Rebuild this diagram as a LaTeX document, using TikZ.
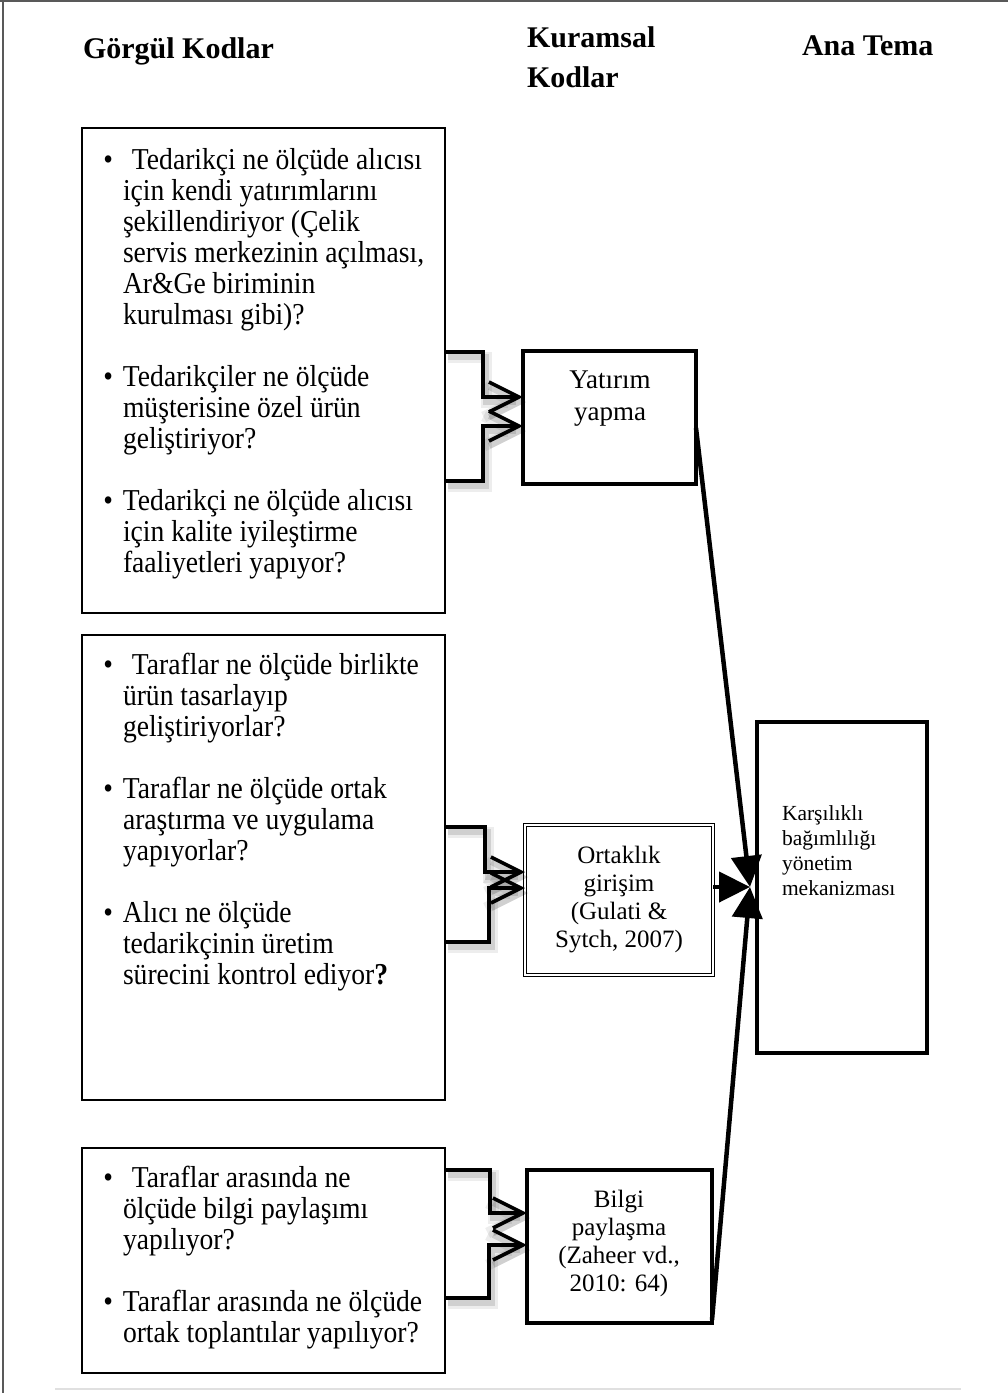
\documentclass[tikz,border=0pt]{standalone}
\usepackage{fontspec}
\setmainfont{Liberation Serif}
\usepackage{graphicx}
\usetikzlibrary{arrows.meta}
\newcommand\bodyfont{\fontsize{27.6}{28.2}\selectfont}
\newcommand\tallbox[1]{\scalebox{1}[1.1]{#1}}
\newcommand\bul{\llap{•\hspace{10pt}}}
\tikzset{
  leftbox/.style={draw, line width=2.5pt, inner sep=0pt, outer sep=0pt, minimum width=363pt},
  kbox/.style={draw, line width=4pt, inner sep=0pt, outer sep=0pt},
  txt/.style={inner sep=0pt, outer sep=0pt},
  conn/.style={line width=3.6pt, -{Straight Barb[length=30pt,width=30pt]},
    preaction={draw=black, opacity=0.07, line width=11pt, transform canvas={shift={(3,5)}}},
    preaction={draw=black, opacity=0.12, line width=6pt, transform canvas={shift={(3,5)}}}},
  big/.style={line width=4.5pt, -{Triangle[length=31pt,width=30pt]}},
}
\begin{document}
\begin{tikzpicture}[x=1pt,y=-1pt]
\useasboundingbox (0,0) rectangle (1008,1393);
% frame
\draw[black!65, line width=2pt] (0,1) -- (1008,1);
\draw[black!65, line width=2pt] (2.5,0) -- (2.5,1393);
\draw[black!12, line width=1.5pt] (55,1389) -- (961,1389);

% headers
\node[txt, anchor=base west, font=\fontsize{30}{40}\selectfont\bfseries] (h1) at (83,58) {Görgül Kodlar};
\node[txt, anchor=north west, font=\fontsize{30}{40}\selectfont\bfseries] (h2) at (527,19)
  {\begin{tabular}{@{}l@{}}Kuramsal\\Kodlar\end{tabular}};
\node[txt, anchor=base west, font=\fontsize{30}{40}\selectfont\bfseries] (h3) at (802,55) {Ana Tema};

% left boxes
\node[leftbox, minimum height=485pt] (b1) at (263.5,370.5) {};
\node[leftbox, minimum height=465pt] (b2) at (263.5,867.5) {};
\node[leftbox, minimum height=225pt] (b3) at (263.5,1260.5) {};

\node[txt, anchor=north west] (t1) at (123,148) {\tallbox{\bodyfont\begin{tabular}{@{}l@{}}
\bul\hspace*{9pt}Tedarikçi ne ölçüde alıcısı\\
için kendi yatırımlarını\\
şekillendiriyor (Çelik\\
servis merkezinin açılması,\\
Ar\&Ge biriminin\\
kurulması gibi)?\\
\\
\bul Tedarikçiler ne ölçüde\\
müşterisine özel ürün\\
geliştiriyor?\\
\\
\bul Tedarikçi ne ölçüde alıcısı\\
için kalite iyileştirme\\
faaliyetleri yapıyor?
\end{tabular}}};

\node[txt, anchor=north west] (t2) at (123,652.5) {\tallbox{\bodyfont\begin{tabular}{@{}l@{}}
\bul\hspace*{9pt}Taraflar ne ölçüde birlikte\\
ürün tasarlayıp\\
geliştiriyorlar?\\
\\
\bul Taraflar ne ölçüde ortak\\
araştırma ve uygulama\\
yapıyorlar?\\
\\
\bul Alıcı ne ölçüde\\
tedarikçinin üretim\\
sürecini kontrol ediyor\textbf{?}
\end{tabular}}};

\node[txt, anchor=north west] (t3) at (123,1165.5) {\tallbox{\bodyfont\begin{tabular}{@{}l@{}}
\bul\hspace*{9pt}Taraflar arasında ne\\
ölçüde bilgi paylaşımı\\
yapılıyor?\\
\\
\bul Taraflar arasında ne ölçüde\\
ortak toplantılar yapılıyor?
\end{tabular}}};

% kuramsal boxes
\node[kbox, minimum width=173pt, minimum height=133pt] (k1) at (609.5,417.5) {};
\node[draw, double, double distance=1.6pt, line width=1.3pt, inner sep=0pt, outer sep=0pt,
  minimum width=188pt, minimum height=150pt] (k2) at (619,900) {};
\node[kbox, minimum width=185pt, minimum height=153pt] (k3) at (619.5,1246.5) {};
\node[kbox, minimum width=170pt, minimum height=331pt] (ana) at (842,887.5) {};

\node[txt, anchor=north] (kt1) at (610,366) {\fontsize{27}{32}\selectfont\begin{tabular}{@{}c@{}}Yatırım\\yapma\end{tabular}};
\node[txt, anchor=north] (kt2) at (619,844) {\fontsize{25}{28}\selectfont\begin{tabular}{@{}c@{}}Ortaklık\\girişim\\(Gulati \&\\Sytch, 2007)\end{tabular}};
\node[txt, anchor=north] (kt3) at (619,1187.5) {\fontsize{25}{28}\selectfont\begin{tabular}{@{}c@{}}Bilgi\\paylaşma\\(Zaheer vd.,\\2010: 64)\end{tabular}};
\node[txt, anchor=north west] (at) at (782,802.5) {\fontsize{21.5}{25}\selectfont\begin{tabular}{@{}l@{}}Karşılıklı\\bağımlılığı\\yönetim\\mekanizması\end{tabular}};

% elbow connectors
\draw[conn] (b1.east |- 0,352) -| (483,397) -- (k1.west |- 0,397);
\draw[conn] (b1.east |- 0,481) -| (483,426) -- (k1.west |- 0,426);
\draw[conn] (b2.east |- 0,827) -| (485,872) -- (k2.west |- 0,872);
\draw[conn] (b2.east |- 0,942) -| (489,888) -- (k2.west |- 0,888);
\draw[conn] (b3.east |- 0,1170) -| (490,1213) -- (k3.west |- 0,1213);
\draw[conn] (b3.east |- 0,1298) -| (489,1245) -- (k3.west |- 0,1245);

% arrows to main theme
\coordinate (hub) at (750,887);
\draw[big] (k1.east |- 0,428) -- (hub);
\draw[big] (k2.east |- 0,887) -- (hub);
\draw[big] (k3.east |- 0,1320) -- (hub);
\end{tikzpicture}
\end{document}
